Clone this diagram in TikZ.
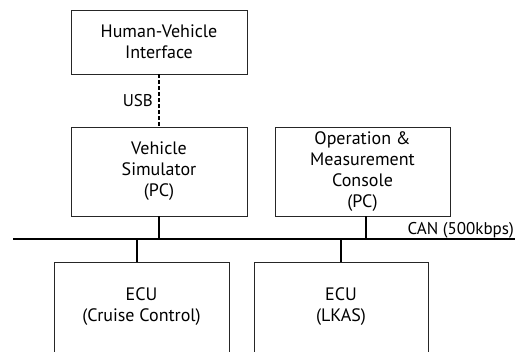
\documentclass[tikz,border=0pt]{standalone}
\usepackage{fontspec}
\setmainfont{PT Sans}
\usetikzlibrary{positioning,calc}
\tikzset{
  unitbox/.style={draw=black!85, line width=0.8pt, align=center, inner sep=0pt,
    minimum width=176pt, minimum height=89pt, font=\fontsize{18}{21}\selectfont},
  bustext/.style={font=\fontsize{17}{19}\selectfont},
  busline/.style={line width=2pt}
}

\begin{document}
\begin{tikzpicture}[x=1pt,y=-1pt]
  \useasboundingbox (0,0) rectangle (526,351);
  \clip (0,0) rectangle (526,351);
  % PCs and interface
  \node[unitbox, minimum height=64pt] (hvi) at (159,42) {Human-Vehicle\\Interface};
  \node[unitbox] (vsim) at (159,171.5) {Vehicle\\Simulator\\(PC)};
  \node[unitbox, minimum width=175pt] (omc) at (362.5,171.5) {Operation \&\\Measurement\\Console\\(PC)};
  % ECUs, cut by the lower edge
  \node[unitbox, minimum width=175pt, minimum height=90pt] (ecucc) at (141.5,307) {ECU\\(Cruise Control)};
  \node[unitbox, minimum width=174pt, minimum height=90pt] (ecul) at (341,307) {ECU\\(LKAS)};
  % USB link
  \draw[line width=1.6pt, dash pattern=on 4pt off 2pt] (hvi.south) -- node[left, bustext, xshift=-2pt] {USB} (vsim.north);
  % CAN bus
  \coordinate (busl) at (13,239);
  \coordinate (busr) at (515,239);
  \draw[busline] (busl) -- (busr);
  \node[bustext, anchor=south east, inner sep=1pt] (can) at (busr) {CAN (500kbps)};
  \draw[busline] (vsim.south) -- (vsim.south |- busl);
  \draw[busline] ($(omc.south)+(3.5,0)$) -- ($(omc.south |- busl)+(3.5,0)$);
  \draw[busline] ($(ecucc.north)+(-4.5,0)$) -- ($(ecucc.north |- busl)+(-4.5,0)$);
  \draw[busline] (ecul.north) -- (ecul.north |- busl);
\end{tikzpicture}
\end{document}
